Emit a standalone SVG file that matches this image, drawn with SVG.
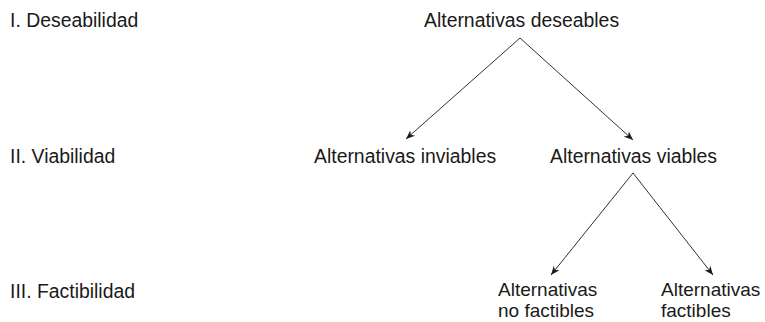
<svg xmlns="http://www.w3.org/2000/svg" width="765" height="322" viewBox="0 0 765 322">
<style>
text{font-family:"Liberation Sans",Arial,Helvetica,sans-serif;font-size:19.4px;fill:#1a1a1a}
text.s{font-size:19px}
.c line{stroke:#1a1a1a;stroke-width:0.9;fill:none}
</style>
<defs>
<marker id="ah" viewBox="0 0 10 10" refX="10" refY="5" markerWidth="9" markerHeight="9" markerUnits="userSpaceOnUse" orient="auto">
<path d="M0,1 L10,5 L0,9 L3,5 Z" fill="#1a1a1a"/>
</marker>
</defs>
<rect width="765" height="322" fill="#fff"/>
<g id="level1"><text x="10" y="27">I. Deseabilidad</text></g>
<g id="level2"><text x="10" y="163">II. Viabilidad</text></g>
<g id="level3"><text x="10" y="298">III. Factibilidad</text></g>
<g id="deseables"><text x="424" y="27">Alternativas deseables</text></g>
<g id="inviables"><text x="314" y="163">Alternativas inviables</text></g>
<g id="viables"><text x="550" y="163">Alternativas viables</text></g>
<g id="nofactibles"><text class="s" x="498" y="296">Alternativas</text><text class="s" x="498" y="317">no factibles</text></g>
<g id="factibles"><text class="s" x="661" y="296">Alternativas</text><text class="s" x="661" y="317">factibles</text></g>
<g id="connectors" class="c">
<line x1="520" y1="38" x2="406" y2="139" marker-end="url(#ah)"/>
<line x1="520" y1="38" x2="633" y2="140" marker-end="url(#ah)"/>
<line x1="633" y1="173" x2="551" y2="275" marker-end="url(#ah)"/>
<line x1="633" y1="173" x2="713" y2="275" marker-end="url(#ah)"/>
</g>
</svg>
